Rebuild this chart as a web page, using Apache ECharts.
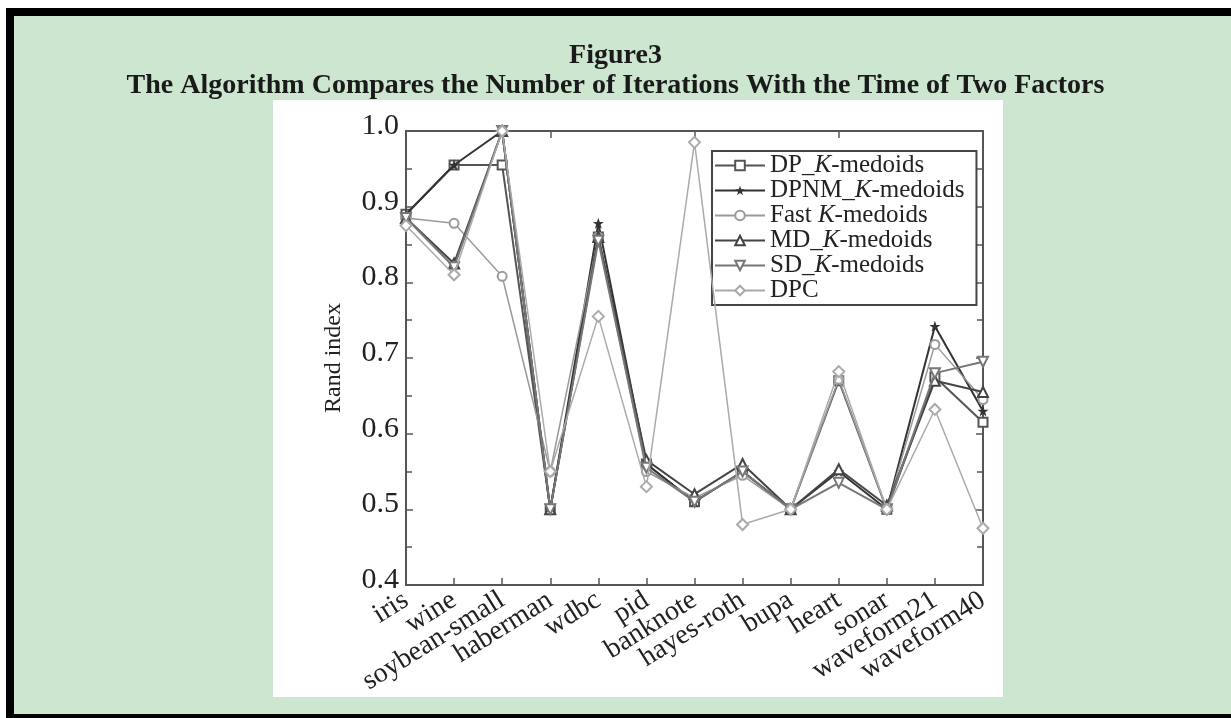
<!DOCTYPE html>
<html><head><meta charset="utf-8">
<script src="https://cdn.jsdelivr.net/npm/echarts@6/dist/echarts.min.js"></script>
<style>html,body{margin:0;padding:0;background:#fff}#c{width:1231px;height:718px}</style>
</head><body><div id="c"></div><script>
const titleLine1 = 'Figure3';
const titleLine2 = 'The Algorithm Compares the Number of Iterations With the Time of Two Factors';
const categories = ['iris','wine','soybean-small','haberman','wdbc','pid','banknote','hayes-roth','bupa','heart','sonar','waveform21','waveform40'];
const yTicks = [0.4, 0.5, 0.6, 0.7, 0.8, 0.9, 1.0];
const seriesNames = ['DP_K-medoids','DPNM_K-medoids','Fast K-medoids','MD_K-medoids','SD_K-medoids','DPC'];
const dpK   = [0.890, 0.955, 0.955, 0.500, 0.860, 0.560, 0.510, 0.550, 0.500, 0.670, 0.500, 0.675, 0.615];
const dpnmK = [0.890, 0.955, 1.000, 0.500, 0.878, 0.560, 0.510, 0.550, 0.500, 0.550, 0.500, 0.742, 0.630];
const fastK = [0.885, 0.878, 0.808, 0.550, 0.860, 0.550, 0.515, 0.545, 0.500, 0.672, 0.500, 0.718, 0.645];
const mdK   = [0.885, 0.825, 1.000, 0.500, 0.860, 0.565, 0.520, 0.560, 0.500, 0.553, 0.505, 0.670, 0.655];
const sdK   = [0.885, 0.820, 1.000, 0.500, 0.855, 0.555, 0.510, 0.550, 0.500, 0.535, 0.500, 0.680, 0.695];
const dpc   = [0.875, 0.810, 1.000, 0.550, 0.755, 0.530, 0.985, 0.480, 0.500, 0.682, 0.500, 0.632, 0.475];

const seriesData = [dpK, dpnmK, fastK, mdK, sdK, dpc];
const starPath = 'path://M0,-10 L2.4,-3.1 9.5,-3.1 3.8,1.2 5.9,8.1 0,3.8 -5.9,8.1 -3.8,1.2 -9.5,-3.1 -2.4,-3.1Z';
const styles = [
  {color:'#555', w:2,   symbol:'emptyRect',     size:9,  rot:0},
  {color:'#333', w:2,   symbol:starPath,        size:11, rot:0},
  {color:'#9a9a9a', w:1.5, symbol:'emptyCircle', size:9,  rot:0},
  {color:'#444', w:2,   symbol:'emptyTriangle', size:10, rot:0},
  {color:'#777', w:2,   symbol:'emptyTriangle', size:10, rot:180},
  {color:'#aaa', w:1.5, symbol:'emptyDiamond',  size:11, rot:0}
];
const serif = '"Liberation Serif","DejaVu Serif",serif';
const axisColor = '#555';

const chart = echarts.init(document.getElementById('c'), null, {renderer:'canvas'});
chart.setOption({
  backgroundColor:'#fff',
  animation:false,
  graphic:[
    {type:'rect', z:-10, silent:true, shape:{x:6,y:8,width:1231,height:718}, style:{fill:'#000'}},
    {type:'rect', z:-9, silent:true, shape:{x:14,y:16,width:1217,height:698}, style:{fill:'#cce6d0'}},
    {type:'rect', z:-8, silent:true, shape:{x:273,y:100,width:730,height:597}, style:{fill:'#fff'}},
    {type:'text', z:5, left:'center', top:42, style:{text:titleLine1, font:'bold 28px "Liberation Serif", serif', fill:'#1a1a1a'}},
    {type:'text', z:5, left:'center', top:72, style:{text:titleLine2, font:'bold 28px "Liberation Serif", serif', fill:'#1a1a1a'}}
  ],
  grid:{left:406, right:248, top:131, bottom:133, containLabel:false},
  legend:{
    orient:'vertical', left:712, top:151,
    itemWidth:50, itemHeight:12, itemGap:0,
    padding:[2,12,2,2],
    borderColor:'#444', borderWidth:2, backgroundColor:'#fff',
    data:seriesNames,
    formatter:function(n){
      const i = n.indexOf('K-');
      if(i<0) return n;
      return n.slice(0,i) + '{k|K}' + n.slice(i+1);
    },
    textStyle:{fontFamily:serif, fontSize:25, color:'#222', lineHeight:24,
      rich:{k:{fontFamily:serif, fontSize:25, fontStyle:'italic', color:'#222', lineHeight:24}}}
  },
  xAxis:[
    {type:'category', data:categories, boundaryGap:false, position:'bottom',
     axisLine:{lineStyle:{color:axisColor, width:2}},
     axisTick:{inside:true, length:7, lineStyle:{color:axisColor, width:1.5}},
     axisLabel:{rotate:32, fontFamily:serif, fontSize:28, color:'#222', margin:13, interval:0}},
    {type:'category', data:categories, boundaryGap:false, position:'top',
     axisLine:{lineStyle:{color:axisColor, width:2}},
     axisTick:{inside:true, length:7, lineStyle:{color:axisColor, width:1.5}},
     axisLabel:{show:false}}
  ],
  yAxis:[
    {type:'value', min:0.4, max:1.0, interval:0.1, position:'left',
     name:'Rand index', nameLocation:'middle', nameGap:60, nameRotate:90,
     nameTextStyle:{fontFamily:serif, fontSize:24, color:'#222'},
     axisLine:{show:true, lineStyle:{color:axisColor, width:2}},
     axisTick:{show:true, inside:true, length:7, lineStyle:{color:axisColor, width:1.5}},
     minorTick:{show:true, splitNumber:2, length:6, lineStyle:{color:axisColor, width:1.5}},
     splitLine:{show:false},
     axisLabel:{fontFamily:serif, fontSize:30, color:'#222', margin:7,
       rich:{t:{fontFamily:serif, fontSize:30, color:'#222', padding:[0,0,10,0]}},
       formatter:function(v){ return yTicks.some(t=>Math.abs(t-v)<1e-6) ? '{t|' + v.toFixed(1) + '}' : ''; }}},
    {type:'value', min:0.4, max:1.0, interval:0.1, position:'right',
     axisLine:{show:true, lineStyle:{color:axisColor, width:2}},
     axisTick:{show:true, inside:true, length:7, lineStyle:{color:axisColor, width:1.5}},
     minorTick:{show:true, splitNumber:2, length:6, lineStyle:{color:axisColor, width:1.5}},
     splitLine:{show:false}, axisLabel:{show:false}}
  ],
  series: seriesNames.map((n,i)=>({
    name:n, type:'line', xAxisIndex:0, yAxisIndex:0,
    data:seriesData[i],
    symbol:styles[i].symbol, symbolSize:styles[i].size, symbolRotate:styles[i].rot,
    showAllSymbol:true,
    lineStyle:{color:styles[i].color, width:styles[i].w},
    itemStyle:{color:styles[i].color, borderWidth:1.5},
    z:3+i
  }))
});
</script></body></html>
